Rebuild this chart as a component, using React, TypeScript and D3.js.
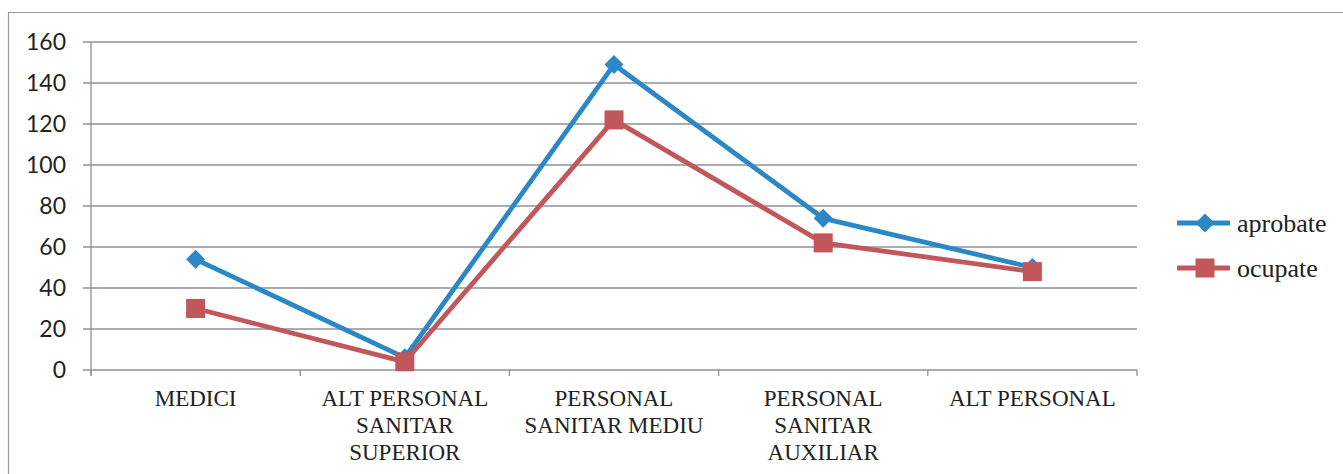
import React from "react";
import * as d3 from "d3";

const categories = ["MEDICI", "ALT PERSONAL SANITAR SUPERIOR", "PERSONAL SANITAR MEDIU", "PERSONAL SANITAR AUXILIAR", "ALT PERSONAL"];
const categoryLines = [
  ["MEDICI"],
  ["ALT PERSONAL", "SANITAR", "SUPERIOR"],
  ["PERSONAL", "SANITAR MEDIU"],
  ["PERSONAL", "SANITAR", "AUXILIAR"],
  ["ALT PERSONAL"],
];
const aprobate = [54, 6, 149, 74, 50];
const ocupate = [30, 4, 122, 62, 48];
const yTicks = [0, 20, 40, 60, 80, 100, 120, 140, 160];

const W = 1343;
const H = 474;
const BLUE = "#2b87c6";
const RED = "#c2575b";
const GRID = "#8f8f9c";

export default function App() {
  const x = d3.scaleBand<string>().domain(categories).range([91, 1137]).paddingInner(0).paddingOuter(0);
  const y = d3.scaleLinear().domain([0, 160]).range([370, 42]);
  const cx = (c: string) => (x(c) as number) + x.bandwidth() / 2;

  const line = d3
    .line<number>()
    .x((_, i) => cx(categories[i]))
    .y((d) => y(d));

  const diamond = (px: number, py: number, r: number) =>
    `M${px},${py - r}L${px + r},${py}L${px},${py + r}L${px - r},${py}Z`;

  const boundaries = categories.map((c) => x(c) as number).concat([x.range()[1]]);

  return (
    <div style={{ position: "absolute", left: 0, top: 0 }}>
      <svg width={W} height={H} style={{ display: "block", background: "#fff" }}>
        {/* outer frame */}
        <line x1={8} y1={12.5} x2={W} y2={12.5} stroke="#a09aa4" strokeWidth={1} />
        <line x1={8.5} y1={12} x2={8.5} y2={H} stroke="#9a9aa4" strokeWidth={1.2} />

        {/* gridlines and y labels */}
        {yTicks.map((t) => (
          <g key={t}>
            <line x1={83} x2={1137} y1={y(t)} y2={y(t)} stroke={GRID} strokeWidth={1.3} />
            <text
              x={66}
              y={y(t)}
              dy="0.36em"
              textAnchor="end"
              fontFamily="Lato, 'Open Sans', sans-serif"
              fontSize={23}
              fill="#222"
            >
              {t}
            </text>
          </g>
        ))}

        {/* axes */}
        <line x1={91} x2={91} y1={42} y2={375} stroke={GRID} strokeWidth={1.3} />
        {boundaries.map((b, i) => (
          <line key={i} x1={b} x2={b} y1={370} y2={376} stroke={GRID} strokeWidth={1.3} />
        ))}

        {/* category labels */}
        {categories.map((c, i) => (
          <text
            key={c}
            x={cx(c)}
            textAnchor="middle"
            fontFamily="'Liberation Serif', 'Times New Roman', serif"
            fontSize={23}
            fill="#222"
          >
            {categoryLines[i].map((ln, j) => (
              <tspan key={j} x={cx(c)} y={405.5 + j * 27.3}>
                {ln}
              </tspan>
            ))}
          </text>
        ))}

        {/* aprobate series */}
        <path d={line(aprobate) || ""} fill="none" stroke={BLUE} strokeWidth={4.8} strokeLinejoin="round" />
        {aprobate.map((v, i) => (
          <path key={i} d={diamond(cx(categories[i]), y(v), 9.5)} fill={BLUE} />
        ))}

        {/* ocupate series */}
        <path d={line(ocupate) || ""} fill="none" stroke={RED} strokeWidth={4.8} strokeLinejoin="round" />
        {ocupate.map((v, i) => (
          <rect key={i} x={cx(categories[i]) - 9.5} y={y(v) - 9.5} width={19} height={19} fill={RED} />
        ))}

        {/* legend */}
        <line x1={1177} x2={1230} y1={223} y2={223} stroke={BLUE} strokeWidth={4.8} />
        <path d={diamond(1205, 223, 9.5)} fill={BLUE} />
        <text x={1237} y={232} fontFamily="'Liberation Serif', 'Times New Roman', serif" fontSize={26} fill="#222">
          aprobate
        </text>
        <line x1={1177} x2={1230} y1={268} y2={268} stroke={RED} strokeWidth={4.8} />
        <rect x={1205 - 9.5} y={268 - 9.5} width={19} height={19} fill={RED} />
        <text x={1237} y={277} fontFamily="'Liberation Serif', 'Times New Roman', serif" fontSize={26} fill="#222">
          ocupate
        </text>
      </svg>
    </div>
  );
}
